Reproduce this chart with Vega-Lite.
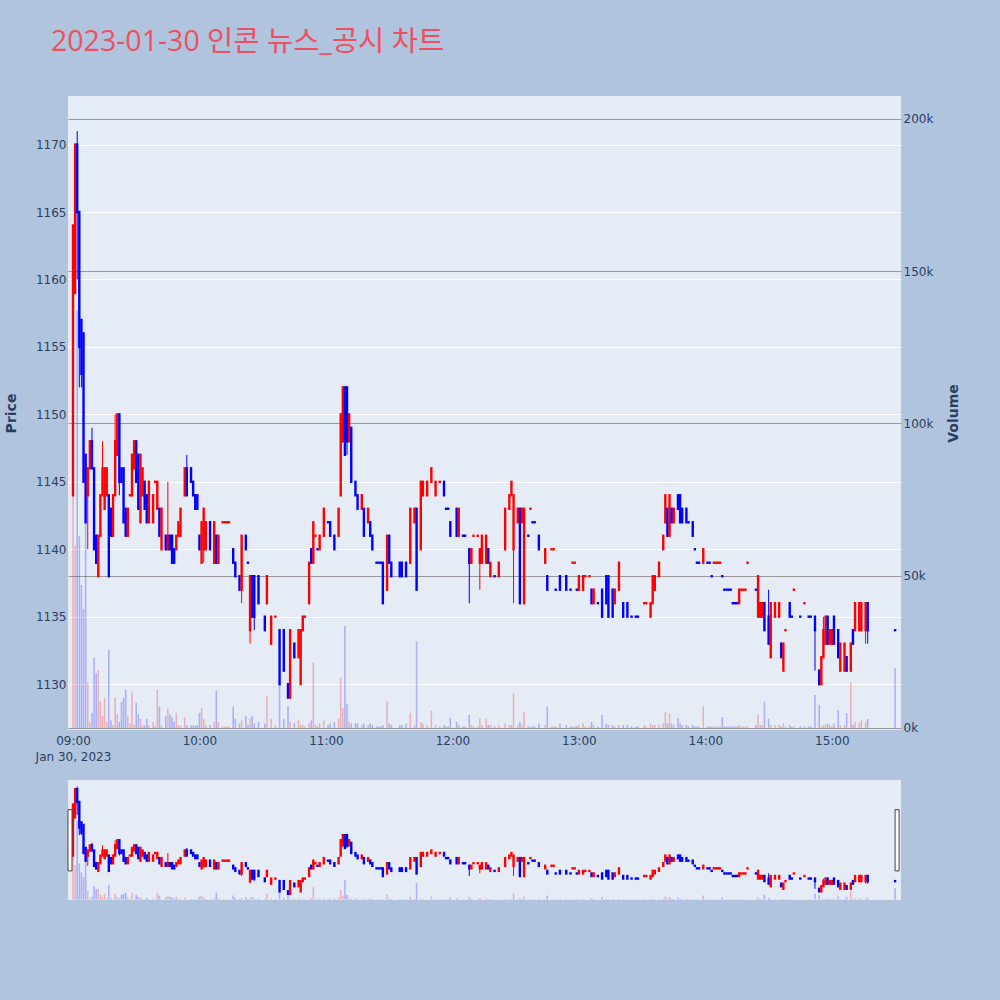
{
  "$schema": "https://vega.github.io/schema/vega-lite/v6.json",
  "background": "#b0c4de",
  "padding": {"left": 4, "top": 27, "right": 39, "bottom": 100},
  "bounds": "flush",
  "spacing": 50,
  "title": {
    "text": "2023-01-30 인콘 뉴스_공시 차트",
    "color": "#ef4f63",
    "fontSize": 28.5,
    "fontWeight": "normal",
    "font": "Open Sans, Noto Sans CJK KR",
    "anchor": "start",
    "frame": "group",
    "dx": -17,
    "offset": 40
  },
  "data": {
    "format": {"parse": {"t": "date:'%H:%M'"}},
    "values": [
      {"t":"09:00","o":1144,"h":1164,"l":1144,"c":1164,"v":104000,"d":"up"},
      {"t":"09:01","o":1159,"h":1170,"l":1159,"c":1170,"v":60000,"d":"up"},
      {"t":"09:02","o":1170,"h":1171,"l":1160,"c":1165,"v":137000,"d":"down"},
      {"t":"09:03","o":1165,"h":1165,"l":1152,"c":1155,"v":63000,"d":"down"},
      {"t":"09:04","o":1157,"h":1157,"l":1152,"c":1153,"v":47000,"d":"down"},
      {"t":"09:05","o":1156,"h":1156,"l":1145,"c":1145,"v":39000,"d":"down"},
      {"t":"09:06","o":1147,"h":1147,"l":1142,"c":1142,"v":75000,"d":"down"},
      {"t":"09:07","o":1144,"h":1146,"l":1140,"c":1146,"v":15000,"d":"up"},
      {"t":"09:08","o":1146,"h":1148,"l":1146,"c":1148,"v":2000,"d":"up"},
      {"t":"09:09","o":1148,"h":1149,"l":1146,"c":1146,"v":5000,"d":"down"},
      {"t":"09:10","o":1146,"h":1146,"l":1140,"c":1140,"v":23000,"d":"down"},
      {"t":"09:11","o":1141,"h":1141,"l":1139,"c":1139,"v":18000,"d":"down"},
      {"t":"09:12","o":1138,"h":1141,"l":1138,"c":1141,"v":19000,"d":"up"},
      {"t":"09:13","o":1141,"h":1144,"l":1141,"c":1144,"v":8600,"d":"up"},
      {"t":"09:14","o":1144,"h":1148,"l":1144,"c":1146,"v":4000,"d":"up"},
      {"t":"09:15","o":1143,"h":1146,"l":1143,"c":1146,"v":9900,"d":"up"},
      {"t":"09:16","o":1144,"h":1146,"l":1144,"c":1146,"v":2000,"d":"up"},
      {"t":"09:17","o":1144,"h":1144,"l":1138,"c":1138,"v":25700,"d":"down"},
      {"t":"09:18","o":1143,"h":1143,"l":1141,"c":1141,"v":2500,"d":"down"},
      {"t":"09:19","o":1141,"h":1144,"l":1141,"c":1144,"v":1000,"d":"up"},
      {"t":"09:20","o":1144,"h":1150,"l":1144,"c":1148,"v":10000,"d":"up"},
      {"t":"09:21","o":1147,"h":1150,"l":1147,"c":1150,"v":4500,"d":"up"},
      {"t":"09:22","o":1150,"h":1150,"l":1144,"c":1145,"v":2000,"d":"down"},
      {"t":"09:23","o":1146,"h":1146,"l":1145,"c":1145,"v":8600,"d":"down"},
      {"t":"09:24","o":1146,"h":1146,"l":1142,"c":1142,"v":10000,"d":"down"},
      {"t":"09:25","o":1143,"h":1143,"l":1141,"c":1141,"v":12600,"d":"down"},
      {"t":"09:26","o":1141,"h":1143,"l":1141,"c":1143,"v":4000,"d":"up"},
      {"t":"09:27","o":1144,"h":1144,"l":1144,"c":1144,"v":1500,"d":"up"},
      {"t":"09:28","o":1144,"h":1147,"l":1144,"c":1147,"v":12000,"d":"up"},
      {"t":"09:29","o":1146,"h":1148,"l":1146,"c":1148,"v":1000,"d":"up"},
      {"t":"09:30","o":1148,"h":1148,"l":1145,"c":1145,"v":8300,"d":"down"},
      {"t":"09:31","o":1147,"h":1147,"l":1143,"c":1143,"v":4500,"d":"down"},
      {"t":"09:32","o":1142,"h":1147,"l":1142,"c":1147,"v":3000,"d":"up"},
      {"t":"09:33","o":1144,"h":1146,"l":1144,"c":1146,"v":1000,"d":"up"},
      {"t":"09:34","o":1145,"h":1145,"l":1143,"c":1143,"v":800,"d":"down"},
      {"t":"09:35","o":1144,"h":1144,"l":1142,"c":1142,"v":3000,"d":"down"},
      {"t":"09:36","o":1142,"h":1145,"l":1142,"c":1145,"v":1000,"d":"up"},
      {"t":"09:38","o":1142,"h":1144,"l":1142,"c":1144,"v":2000,"d":"up"},
      {"t":"09:39","o":1145,"h":1145,"l":1145,"c":1145,"v":800,"d":"up"},
      {"t":"09:40","o":1143,"h":1145,"l":1143,"c":1145,"v":12600,"d":"up"},
      {"t":"09:41","o":1143,"h":1143,"l":1141,"c":1141,"v":7000,"d":"down"},
      {"t":"09:42","o":1140,"h":1143,"l":1140,"c":1143,"v":1000,"d":"up"},
      {"t":"09:44","o":1141,"h":1141,"l":1140,"c":1140,"v":4000,"d":"down"},
      {"t":"09:45","o":1140,"h":1145,"l":1140,"c":1141,"v":6300,"d":"up"},
      {"t":"09:46","o":1141,"h":1141,"l":1140,"c":1140,"v":4500,"d":"down"},
      {"t":"09:47","o":1141,"h":1141,"l":1139,"c":1139,"v":3500,"d":"down"},
      {"t":"09:48","o":1140,"h":1140,"l":1139,"c":1139,"v":2000,"d":"down"},
      {"t":"09:49","o":1140,"h":1141,"l":1140,"c":1141,"v":5000,"d":"up"},
      {"t":"09:50","o":1141,"h":1142,"l":1141,"c":1142,"v":1000,"d":"up"},
      {"t":"09:51","o":1141,"h":1143,"l":1141,"c":1143,"v":800,"d":"up"},
      {"t":"09:53","o":1144,"h":1146,"l":1144,"c":1146,"v":3500,"d":"up"},
      {"t":"09:54","o":1146,"h":1147,"l":1144,"c":1144,"v":800,"d":"down"},
      {"t":"09:56","o":1146,"h":1146,"l":1145,"c":1145,"v":1000,"d":"down"},
      {"t":"09:57","o":1145,"h":1145,"l":1144,"c":1144,"v":800,"d":"down"},
      {"t":"09:58","o":1144,"h":1144,"l":1143,"c":1143,"v":800,"d":"down"},
      {"t":"09:59","o":1144,"h":1144,"l":1143,"c":1143,"v":1000,"d":"down"},
      {"t":"10:00","o":1141,"h":1141,"l":1140,"c":1140,"v":5000,"d":"down"},
      {"t":"10:01","o":1139,"h":1142,"l":1139,"c":1142,"v":6600,"d":"up"},
      {"t":"10:02","o":1140,"h":1143,"l":1139,"c":1143,"v":3000,"d":"up"},
      {"t":"10:03","o":1140,"h":1142,"l":1140,"c":1142,"v":1000,"d":"up"},
      {"t":"10:05","o":1142,"h":1142,"l":1140,"c":1140,"v":1000,"d":"down"},
      {"t":"10:07","o":1139,"h":1142,"l":1139,"c":1142,"v":2000,"d":"up"},
      {"t":"10:08","o":1141,"h":1141,"l":1139,"c":1139,"v":12300,"d":"down"},
      {"t":"10:09","o":1139,"h":1141,"l":1139,"c":1141,"v":2000,"d":"up"},
      {"t":"10:11","o":1142,"h":1142,"l":1142,"c":1142,"v":500,"d":"up"},
      {"t":"10:12","o":1142,"h":1142,"l":1142,"c":1142,"v":500,"d":"up"},
      {"t":"10:13","o":1142,"h":1142,"l":1142,"c":1142,"v":500,"d":"up"},
      {"t":"10:14","o":1142,"h":1142,"l":1142,"c":1142,"v":500,"d":"up"},
      {"t":"10:16","o":1140,"h":1140,"l":1139,"c":1139,"v":7000,"d":"down"},
      {"t":"10:17","o":1139,"h":1139,"l":1138,"c":1138,"v":3000,"d":"down"},
      {"t":"10:19","o":1138,"h":1138,"l":1137,"c":1137,"v":1500,"d":"down"},
      {"t":"10:20","o":1137,"h":1141,"l":1136,"c":1141,"v":2500,"d":"up"},
      {"t":"10:22","o":1141,"h":1141,"l":1140,"c":1140,"v":4000,"d":"down"},
      {"t":"10:23","o":1139,"h":1139,"l":1139,"c":1139,"v":1000,"d":"down"},
      {"t":"10:24","o":1134,"h":1138,"l":1133,"c":1138,"v":3000,"d":"up"},
      {"t":"10:25","o":1138,"h":1138,"l":1135,"c":1135,"v":4000,"d":"down"},
      {"t":"10:26","o":1138,"h":1138,"l":1134,"c":1135,"v":1500,"d":"down"},
      {"t":"10:28","o":1138,"h":1138,"l":1136,"c":1136,"v":2000,"d":"down"},
      {"t":"10:31","o":1135,"h":1135,"l":1134,"c":1134,"v":1500,"d":"down"},
      {"t":"10:32","o":1136,"h":1138,"l":1136,"c":1138,"v":10600,"d":"up"},
      {"t":"10:34","o":1133,"h":1135,"l":1133,"c":1135,"v":3000,"d":"up"},
      {"t":"10:36","o":1135,"h":1135,"l":1135,"c":1135,"v":1000,"d":"up"},
      {"t":"10:38","o":1134,"h":1134,"l":1130,"c":1130,"v":14800,"d":"down"},
      {"t":"10:40","o":1134,"h":1134,"l":1131,"c":1131,"v":3000,"d":"down"},
      {"t":"10:42","o":1130,"h":1130,"l":1129,"c":1129,"v":7200,"d":"down"},
      {"t":"10:43","o":1129,"h":1134,"l":1129,"c":1134,"v":2000,"d":"up"},
      {"t":"10:45","o":1133,"h":1133,"l":1132,"c":1132,"v":1500,"d":"down"},
      {"t":"10:47","o":1132,"h":1134,"l":1132,"c":1134,"v":2500,"d":"up"},
      {"t":"10:48","o":1130,"h":1134,"l":1130,"c":1134,"v":1000,"d":"up"},
      {"t":"10:49","o":1134,"h":1135,"l":1134,"c":1135,"v":1000,"d":"up"},
      {"t":"10:50","o":1135,"h":1135,"l":1135,"c":1135,"v":500,"d":"up"},
      {"t":"10:52","o":1136,"h":1139,"l":1136,"c":1139,"v":1500,"d":"up"},
      {"t":"10:53","o":1140,"h":1140,"l":1139,"c":1139,"v":2500,"d":"down"},
      {"t":"10:54","o":1139,"h":1142,"l":1139,"c":1142,"v":21500,"d":"up"},
      {"t":"10:55","o":1141,"h":1141,"l":1141,"c":1141,"v":1000,"d":"up"},
      {"t":"10:56","o":1140,"h":1140,"l":1140,"c":1140,"v":500,"d":"down"},
      {"t":"10:57","o":1140,"h":1141,"l":1140,"c":1141,"v":1500,"d":"up"},
      {"t":"10:59","o":1141,"h":1143,"l":1141,"c":1143,"v":2500,"d":"up"},
      {"t":"11:01","o":1142,"h":1142,"l":1142,"c":1142,"v":1000,"d":"down"},
      {"t":"11:02","o":1142,"h":1142,"l":1141,"c":1141,"v":1500,"d":"down"},
      {"t":"11:04","o":1141,"h":1141,"l":1140,"c":1140,"v":2000,"d":"down"},
      {"t":"11:06","o":1141,"h":1143,"l":1141,"c":1143,"v":3000,"d":"up"},
      {"t":"11:07","o":1144,"h":1150,"l":1144,"c":1150,"v":16500,"d":"up"},
      {"t":"11:08","o":1148,"h":1152,"l":1148,"c":1152,"v":6600,"d":"up"},
      {"t":"11:09","o":1152,"h":1152,"l":1147,"c":1147,"v":33500,"d":"down"},
      {"t":"11:10","o":1152,"h":1152,"l":1147,"c":1148,"v":8000,"d":"down"},
      {"t":"11:11","o":1148,"h":1150,"l":1148,"c":1150,"v":2000,"d":"up"},
      {"t":"11:12","o":1149,"h":1149,"l":1145,"c":1145,"v":1500,"d":"down"},
      {"t":"11:14","o":1145,"h":1145,"l":1144,"c":1144,"v":1500,"d":"down"},
      {"t":"11:15","o":1144,"h":1144,"l":1143,"c":1143,"v":1500,"d":"down"},
      {"t":"11:17","o":1143,"h":1144,"l":1143,"c":1144,"v":1000,"d":"up"},
      {"t":"11:18","o":1143,"h":1143,"l":1141,"c":1141,"v":1500,"d":"down"},
      {"t":"11:20","o":1142,"h":1143,"l":1142,"c":1143,"v":1000,"d":"up"},
      {"t":"11:21","o":1142,"h":1142,"l":1141,"c":1141,"v":1500,"d":"down"},
      {"t":"11:22","o":1141,"h":1141,"l":1140,"c":1140,"v":1000,"d":"down"},
      {"t":"11:24","o":1139,"h":1139,"l":1139,"c":1139,"v":500,"d":"down"},
      {"t":"11:25","o":1139,"h":1139,"l":1139,"c":1139,"v":500,"d":"down"},
      {"t":"11:26","o":1139,"h":1139,"l":1139,"c":1139,"v":500,"d":"down"},
      {"t":"11:27","o":1139,"h":1139,"l":1136,"c":1136,"v":1000,"d":"down"},
      {"t":"11:29","o":1137,"h":1141,"l":1137,"c":1141,"v":8900,"d":"up"},
      {"t":"11:30","o":1141,"h":1141,"l":1139,"c":1139,"v":1500,"d":"down"},
      {"t":"11:31","o":1139,"h":1139,"l":1138,"c":1138,"v":1000,"d":"down"},
      {"t":"11:35","o":1139,"h":1139,"l":1138,"c":1138,"v":1000,"d":"down"},
      {"t":"11:36","o":1139,"h":1139,"l":1138,"c":1138,"v":1000,"d":"down"},
      {"t":"11:38","o":1139,"h":1139,"l":1138,"c":1138,"v":1500,"d":"down"},
      {"t":"11:40","o":1139,"h":1143,"l":1139,"c":1143,"v":5000,"d":"up"},
      {"t":"11:42","o":1142,"h":1143,"l":1142,"c":1143,"v":1000,"d":"up"},
      {"t":"11:43","o":1143,"h":1143,"l":1137,"c":1137,"v":28400,"d":"down"},
      {"t":"11:45","o":1140,"h":1145,"l":1140,"c":1145,"v":2000,"d":"up"},
      {"t":"11:46","o":1144,"h":1145,"l":1144,"c":1145,"v":1500,"d":"up"},
      {"t":"11:48","o":1144,"h":1145,"l":1144,"c":1145,"v":1000,"d":"up"},
      {"t":"11:50","o":1145,"h":1146,"l":1145,"c":1146,"v":5700,"d":"up"},
      {"t":"11:52","o":1144,"h":1145,"l":1144,"c":1145,"v":1000,"d":"up"},
      {"t":"11:54","o":1145,"h":1145,"l":1145,"c":1145,"v":500,"d":"up"},
      {"t":"11:56","o":1145,"h":1145,"l":1144,"c":1144,"v":1000,"d":"down"},
      {"t":"11:57","o":1143,"h":1143,"l":1143,"c":1143,"v":500,"d":"down"},
      {"t":"11:58","o":1143,"h":1143,"l":1143,"c":1143,"v":500,"d":"down"},
      {"t":"11:59","o":1142,"h":1142,"l":1141,"c":1141,"v":3300,"d":"down"},
      {"t":"12:02","o":1143,"h":1143,"l":1141,"c":1141,"v":2000,"d":"down"},
      {"t":"12:03","o":1141,"h":1143,"l":1141,"c":1143,"v":1000,"d":"up"},
      {"t":"12:05","o":1141,"h":1141,"l":1141,"c":1141,"v":500,"d":"down"},
      {"t":"12:06","o":1141,"h":1141,"l":1141,"c":1141,"v":500,"d":"down"},
      {"t":"12:08","o":1140,"h":1140,"l":1136,"c":1139,"v":4300,"d":"down"},
      {"t":"12:09","o":1139,"h":1140,"l":1139,"c":1140,"v":1000,"d":"up"},
      {"t":"12:10","o":1141,"h":1141,"l":1141,"c":1141,"v":500,"d":"up"},
      {"t":"12:12","o":1141,"h":1141,"l":1141,"c":1141,"v":500,"d":"up"},
      {"t":"12:13","o":1139,"h":1140,"l":1137,"c":1140,"v":3000,"d":"up"},
      {"t":"12:14","o":1139,"h":1141,"l":1139,"c":1141,"v":1000,"d":"up"},
      {"t":"12:16","o":1139,"h":1141,"l":1139,"c":1141,"v":3000,"d":"up"},
      {"t":"12:17","o":1140,"h":1140,"l":1139,"c":1139,"v":1000,"d":"down"},
      {"t":"12:18","o":1138,"h":1139,"l":1138,"c":1139,"v":1000,"d":"up"},
      {"t":"12:20","o":1138,"h":1138,"l":1138,"c":1138,"v":500,"d":"down"},
      {"t":"12:22","o":1138,"h":1139,"l":1138,"c":1139,"v":1000,"d":"up"},
      {"t":"12:25","o":1140,"h":1143,"l":1140,"c":1143,"v":1500,"d":"up"},
      {"t":"12:27","o":1143,"h":1144,"l":1143,"c":1144,"v":1000,"d":"up"},
      {"t":"12:28","o":1144,"h":1145,"l":1144,"c":1145,"v":1000,"d":"up"},
      {"t":"12:29","o":1140,"h":1144,"l":1136,"c":1144,"v":11500,"d":"up"},
      {"t":"12:31","o":1142,"h":1143,"l":1142,"c":1143,"v":1000,"d":"up"},
      {"t":"12:32","o":1143,"h":1143,"l":1136,"c":1136,"v":2000,"d":"down"},
      {"t":"12:33","o":1142,"h":1143,"l":1142,"c":1143,"v":1000,"d":"up"},
      {"t":"12:34","o":1136,"h":1143,"l":1136,"c":1143,"v":5300,"d":"up"},
      {"t":"12:36","o":1141,"h":1141,"l":1141,"c":1141,"v":500,"d":"down"},
      {"t":"12:37","o":1143,"h":1143,"l":1143,"c":1143,"v":500,"d":"up"},
      {"t":"12:38","o":1142,"h":1142,"l":1142,"c":1142,"v":500,"d":"down"},
      {"t":"12:39","o":1142,"h":1142,"l":1142,"c":1142,"v":500,"d":"down"},
      {"t":"12:41","o":1141,"h":1141,"l":1140,"c":1140,"v":1500,"d":"down"},
      {"t":"12:44","o":1139,"h":1140,"l":1139,"c":1140,"v":1000,"d":"up"},
      {"t":"12:45","o":1138,"h":1138,"l":1137,"c":1137,"v":7000,"d":"down"},
      {"t":"12:47","o":1140,"h":1140,"l":1140,"c":1140,"v":500,"d":"up"},
      {"t":"12:48","o":1140,"h":1140,"l":1140,"c":1140,"v":500,"d":"up"},
      {"t":"12:49","o":1137,"h":1137,"l":1137,"c":1137,"v":500,"d":"down"},
      {"t":"12:51","o":1138,"h":1138,"l":1137,"c":1137,"v":1500,"d":"down"},
      {"t":"12:54","o":1138,"h":1138,"l":1137,"c":1137,"v":1000,"d":"down"},
      {"t":"12:56","o":1137,"h":1137,"l":1137,"c":1137,"v":500,"d":"down"},
      {"t":"12:57","o":1139,"h":1139,"l":1139,"c":1139,"v":500,"d":"up"},
      {"t":"12:58","o":1139,"h":1139,"l":1139,"c":1139,"v":500,"d":"up"},
      {"t":"12:59","o":1137,"h":1137,"l":1137,"c":1137,"v":500,"d":"down"},
      {"t":"13:00","o":1137,"h":1138,"l":1137,"c":1138,"v":1000,"d":"up"},
      {"t":"13:02","o":1137,"h":1138,"l":1137,"c":1138,"v":1500,"d":"up"},
      {"t":"13:03","o":1138,"h":1138,"l":1138,"c":1138,"v":500,"d":"up"},
      {"t":"13:05","o":1138,"h":1138,"l":1138,"c":1138,"v":500,"d":"up"},
      {"t":"13:06","o":1137,"h":1137,"l":1136,"c":1136,"v":2000,"d":"down"},
      {"t":"13:07","o":1136,"h":1137,"l":1136,"c":1137,"v":1000,"d":"up"},
      {"t":"13:09","o":1136,"h":1136,"l":1136,"c":1136,"v":500,"d":"down"},
      {"t":"13:11","o":1137,"h":1137,"l":1135,"c":1135,"v":4300,"d":"down"},
      {"t":"13:13","o":1138,"h":1138,"l":1136,"c":1136,"v":1500,"d":"down"},
      {"t":"13:14","o":1138,"h":1138,"l":1135,"c":1135,"v":1000,"d":"down"},
      {"t":"13:16","o":1137,"h":1137,"l":1135,"c":1135,"v":1000,"d":"down"},
      {"t":"13:17","o":1136,"h":1137,"l":1136,"c":1137,"v":500,"d":"up"},
      {"t":"13:19","o":1137,"h":1139,"l":1137,"c":1139,"v":1000,"d":"up"},
      {"t":"13:21","o":1136,"h":1136,"l":1135,"c":1135,"v":1000,"d":"down"},
      {"t":"13:23","o":1136,"h":1136,"l":1135,"c":1135,"v":1000,"d":"down"},
      {"t":"13:25","o":1135,"h":1135,"l":1135,"c":1135,"v":500,"d":"down"},
      {"t":"13:27","o":1135,"h":1135,"l":1135,"c":1135,"v":500,"d":"down"},
      {"t":"13:28","o":1135,"h":1135,"l":1135,"c":1135,"v":500,"d":"down"},
      {"t":"13:31","o":1136,"h":1136,"l":1136,"c":1136,"v":1000,"d":"up"},
      {"t":"13:32","o":1136,"h":1136,"l":1136,"c":1136,"v":500,"d":"up"},
      {"t":"13:34","o":1135,"h":1136,"l":1135,"c":1136,"v":1500,"d":"up"},
      {"t":"13:35","o":1136,"h":1138,"l":1136,"c":1138,"v":1000,"d":"up"},
      {"t":"13:36","o":1137,"h":1138,"l":1137,"c":1138,"v":1000,"d":"up"},
      {"t":"13:38","o":1138,"h":1139,"l":1138,"c":1139,"v":1000,"d":"up"},
      {"t":"13:40","o":1140,"h":1141,"l":1140,"c":1141,"v":1500,"d":"up"},
      {"t":"13:41","o":1142,"h":1144,"l":1142,"c":1144,"v":5300,"d":"up"},
      {"t":"13:42","o":1143,"h":1143,"l":1141,"c":1141,"v":1500,"d":"down"},
      {"t":"13:43","o":1141,"h":1144,"l":1141,"c":1144,"v":4800,"d":"up"},
      {"t":"13:44","o":1143,"h":1143,"l":1142,"c":1142,"v":1500,"d":"down"},
      {"t":"13:45","o":1142,"h":1143,"l":1142,"c":1143,"v":1000,"d":"up"},
      {"t":"13:47","o":1144,"h":1144,"l":1143,"c":1143,"v":3300,"d":"down"},
      {"t":"13:48","o":1144,"h":1144,"l":1142,"c":1142,"v":1500,"d":"down"},
      {"t":"13:49","o":1143,"h":1143,"l":1142,"c":1142,"v":1000,"d":"down"},
      {"t":"13:51","o":1143,"h":1143,"l":1142,"c":1142,"v":1000,"d":"down"},
      {"t":"13:52","o":1142,"h":1142,"l":1142,"c":1142,"v":500,"d":"down"},
      {"t":"13:54","o":1142,"h":1142,"l":1141,"c":1141,"v":1000,"d":"down"},
      {"t":"13:55","o":1140,"h":1140,"l":1140,"c":1140,"v":500,"d":"down"},
      {"t":"13:56","o":1139,"h":1139,"l":1139,"c":1139,"v":500,"d":"down"},
      {"t":"13:57","o":1139,"h":1139,"l":1139,"c":1139,"v":500,"d":"down"},
      {"t":"13:59","o":1139,"h":1140,"l":1139,"c":1140,"v":7200,"d":"up"},
      {"t":"14:01","o":1139,"h":1139,"l":1139,"c":1139,"v":500,"d":"down"},
      {"t":"14:02","o":1139,"h":1139,"l":1139,"c":1139,"v":500,"d":"down"},
      {"t":"14:03","o":1138,"h":1138,"l":1138,"c":1138,"v":500,"d":"down"},
      {"t":"14:04","o":1139,"h":1139,"l":1139,"c":1139,"v":500,"d":"up"},
      {"t":"14:05","o":1139,"h":1139,"l":1139,"c":1139,"v":500,"d":"up"},
      {"t":"14:06","o":1139,"h":1139,"l":1139,"c":1139,"v":500,"d":"up"},
      {"t":"14:07","o":1139,"h":1139,"l":1139,"c":1139,"v":500,"d":"up"},
      {"t":"14:08","o":1138,"h":1138,"l":1138,"c":1138,"v":3600,"d":"down"},
      {"t":"14:09","o":1137,"h":1137,"l":1137,"c":1137,"v":500,"d":"down"},
      {"t":"14:10","o":1137,"h":1137,"l":1137,"c":1137,"v":500,"d":"down"},
      {"t":"14:11","o":1137,"h":1137,"l":1137,"c":1137,"v":500,"d":"down"},
      {"t":"14:12","o":1137,"h":1137,"l":1137,"c":1137,"v":500,"d":"down"},
      {"t":"14:13","o":1136,"h":1136,"l":1136,"c":1136,"v":500,"d":"down"},
      {"t":"14:14","o":1136,"h":1136,"l":1136,"c":1136,"v":500,"d":"down"},
      {"t":"14:15","o":1136,"h":1136,"l":1136,"c":1136,"v":500,"d":"down"},
      {"t":"14:16","o":1136,"h":1137,"l":1136,"c":1137,"v":1000,"d":"up"},
      {"t":"14:17","o":1137,"h":1137,"l":1137,"c":1137,"v":500,"d":"up"},
      {"t":"14:18","o":1137,"h":1137,"l":1137,"c":1137,"v":500,"d":"up"},
      {"t":"14:19","o":1137,"h":1137,"l":1137,"c":1137,"v":500,"d":"up"},
      {"t":"14:20","o":1139,"h":1139,"l":1139,"c":1139,"v":500,"d":"up"},
      {"t":"14:24","o":1137,"h":1137,"l":1137,"c":1137,"v":1000,"d":"down"},
      {"t":"14:25","o":1135,"h":1138,"l":1135,"c":1138,"v":4300,"d":"up"},
      {"t":"14:26","o":1135,"h":1136,"l":1135,"c":1136,"v":1000,"d":"up"},
      {"t":"14:27","o":1135,"h":1136,"l":1135,"c":1136,"v":1000,"d":"up"},
      {"t":"14:28","o":1136,"h":1136,"l":1134,"c":1134,"v":8600,"d":"down"},
      {"t":"14:30","o":1135,"h":1137,"l":1133,"c":1133,"v":3000,"d":"down"},
      {"t":"14:31","o":1132,"h":1136,"l":1132,"c":1136,"v":1000,"d":"up"},
      {"t":"14:33","o":1135,"h":1136,"l":1135,"c":1136,"v":1000,"d":"up"},
      {"t":"14:35","o":1135,"h":1136,"l":1135,"c":1136,"v":1000,"d":"up"},
      {"t":"14:36","o":1133,"h":1133,"l":1132,"c":1132,"v":500,"d":"down"},
      {"t":"14:37","o":1131,"h":1133,"l":1131,"c":1133,"v":1500,"d":"up"},
      {"t":"14:38","o":1134,"h":1134,"l":1134,"c":1134,"v":500,"d":"up"},
      {"t":"14:40","o":1136,"h":1136,"l":1135,"c":1135,"v":1000,"d":"down"},
      {"t":"14:41","o":1135,"h":1135,"l":1135,"c":1135,"v":500,"d":"down"},
      {"t":"14:42","o":1137,"h":1137,"l":1137,"c":1137,"v":500,"d":"up"},
      {"t":"14:45","o":1135,"h":1135,"l":1135,"c":1135,"v":500,"d":"down"},
      {"t":"14:47","o":1136,"h":1136,"l":1136,"c":1136,"v":500,"d":"up"},
      {"t":"14:49","o":1135,"h":1135,"l":1135,"c":1135,"v":500,"d":"down"},
      {"t":"14:50","o":1135,"h":1135,"l":1135,"c":1135,"v":500,"d":"down"},
      {"t":"14:52","o":1135,"h":1135,"l":1131,"c":1134,"v":10800,"d":"down"},
      {"t":"14:54","o":1131,"h":1131,"l":1130,"c":1130,"v":7600,"d":"down"},
      {"t":"14:55","o":1130,"h":1132,"l":1130,"c":1132,"v":500,"d":"up"},
      {"t":"14:56","o":1132,"h":1135,"l":1132,"c":1134,"v":1000,"d":"up"},
      {"t":"14:57","o":1133,"h":1135,"l":1133,"c":1135,"v":1000,"d":"up"},
      {"t":"14:58","o":1135,"h":1135,"l":1133,"c":1133,"v":1500,"d":"down"},
      {"t":"14:59","o":1133,"h":1134,"l":1133,"c":1134,"v":1000,"d":"up"},
      {"t":"15:00","o":1133,"h":1134,"l":1133,"c":1134,"v":500,"d":"up"},
      {"t":"15:01","o":1135,"h":1135,"l":1133,"c":1133,"v":1500,"d":"down"},
      {"t":"15:03","o":1134,"h":1134,"l":1132,"c":1132,"v":5900,"d":"down"},
      {"t":"15:04","o":1131,"h":1133,"l":1131,"c":1133,"v":1000,"d":"up"},
      {"t":"15:06","o":1131,"h":1133,"l":1131,"c":1133,"v":1000,"d":"up"},
      {"t":"15:07","o":1132,"h":1132,"l":1131,"c":1131,"v":4900,"d":"down"},
      {"t":"15:09","o":1131,"h":1133,"l":1131,"c":1133,"v":14900,"d":"up"},
      {"t":"15:10","o":1134,"h":1134,"l":1133,"c":1133,"v":1000,"d":"down"},
      {"t":"15:11","o":1134,"h":1136,"l":1134,"c":1136,"v":2000,"d":"up"},
      {"t":"15:13","o":1134,"h":1136,"l":1134,"c":1136,"v":1500,"d":"up"},
      {"t":"15:14","o":1134,"h":1136,"l":1134,"c":1136,"v":2500,"d":"up"},
      {"t":"15:16","o":1134,"h":1136,"l":1133,"c":1136,"v":2000,"d":"up"},
      {"t":"15:17","o":1136,"h":1136,"l":1133,"c":1134,"v":3000,"d":"down"},
      {"t":"15:30","o":1134,"h":1134,"l":1134,"c":1134,"v":19700,"d":"down"}
    ]
  },
  "vconcat": [
    {
      "width": 833,
      "height": 634,
      "encoding": {
        "x": {
          "field": "t",
          "type": "temporal",
          "title": null,
          "scale": {
            "padding": 0,
            "domain": [
              {"year": 1900, "month": 1, "date": 1, "hours": 8, "minutes": 57, "seconds": 38},
              {"year": 1900, "month": 1, "date": 1, "hours": 15, "minutes": 32, "seconds": 48}
            ]
          },
          "axis": {
            "grid": false,
            "values": [
              {"year": 1900, "month": 1, "date": 1, "hours": 9},
              {"year": 1900, "month": 1, "date": 1, "hours": 10},
              {"year": 1900, "month": 1, "date": 1, "hours": 11},
              {"year": 1900, "month": 1, "date": 1, "hours": 12},
              {"year": 1900, "month": 1, "date": 1, "hours": 13},
              {"year": 1900, "month": 1, "date": 1, "hours": 14},
              {"year": 1900, "month": 1, "date": 1, "hours": 15}
            ],
            "labelExpr": "hours(datum.value) == 9 ? ['09:00', 'Jan 30, 2023'] : timeFormat(datum.value, '%H:%M')",
            "labelPadding": 5,
            "labelLineHeight": 16,
            "labelOverlap": false,
            "labelFlush": false
          }
        },
        "color": {
          "field": "d",
          "type": "nominal",
          "scale": {"domain": ["up", "down"], "range": ["#ff0000", "#0000ff"]},
          "legend": null
        }
      },
      "layer": [
        {
          "layer": [
            {
              "mark": {"type": "rule", "strokeWidth": 1},
              "encoding": {
                "y": {
                  "field": "l",
                  "type": "quantitative",
                  "title": "Price",
                  "scale": {"domain": [1126.6, 1173.6], "nice": false, "zero": false},
                  "axis": {
                    "values": [1130, 1135, 1140, 1145, 1150, 1155, 1160, 1165, 1170],
                    "format": "d",
                    "labelPadding": 2,
                    "titlePadding": 17
                  }
                },
                "y2": {"field": "h"}
              }
            },
            {
              "mark": {"type": "rule", "strokeWidth": 2.4, "strokeCap": "square"},
              "encoding": {
                "y": {"field": "o", "type": "quantitative"},
                "y2": {"field": "c"}
              }
            }
          ]
        },
        {
          "mark": {"type": "bar", "width": 1.6, "opacity": 0.25},
          "encoding": {
            "y": {
              "field": "v",
              "type": "quantitative",
              "title": "Volume",
              "scale": {"domain": [-660, 207550], "nice": false},
              "axis": {
                "orient": "right",
                "grid": true,
                "values": [0, 50000, 100000, 150000, 200000],
                "format": "~s",
                "gridColor": "#999999",
                "gridOpacity": 1,
                "labelPadding": 2,
                "titleAngle": 270,
                "titlePadding": 28
              }
            }
          }
        }
      ],
      "resolve": {"scale": {"y": "independent"}}
    },
    {
      "width": 833,
      "height": 120,
      "encoding": {
        "x": {
          "field": "t",
          "type": "temporal",
          "axis": null,
          "scale": {
            "padding": 0,
            "domain": [
              {"year": 1900, "month": 1, "date": 1, "hours": 8, "minutes": 57, "seconds": 38},
              {"year": 1900, "month": 1, "date": 1, "hours": 15, "minutes": 32, "seconds": 48}
            ]
          }
        },
        "color": {
          "field": "d",
          "type": "nominal",
          "scale": {"domain": ["up", "down"], "range": ["#ff0000", "#0000ff"]},
          "legend": null
        }
      },
      "layer": [
        {
          "layer": [
            {
              "mark": {"type": "rule", "strokeWidth": 1},
              "encoding": {
                "y": {
                  "field": "l",
                  "type": "quantitative",
                  "axis": null,
                  "scale": {"domain": [1126.6, 1173.6], "nice": false, "zero": false}
                },
                "y2": {"field": "h"}
              }
            },
            {
              "mark": {"type": "rule", "strokeWidth": 2.4, "strokeCap": "square"},
              "encoding": {
                "y": {"field": "o", "type": "quantitative"},
                "y2": {"field": "c"}
              }
            },
            {
              "transform": [{"filter": "hours(datum.t) == 9 && minutes(datum.t) == 0"}],
              "mark": {"type": "rect", "width": 4, "xOffset": -3, "fill": "#ffffff", "stroke": "#444444", "strokeWidth": 1},
              "encoding": {
                "y": {"datum": 1162, "type": "quantitative"},
                "y2": {"datum": 1138},
                "color": {"value": "#ffffff"}
              }
            },
            {
              "transform": [{"filter": "hours(datum.t) == 15 && minutes(datum.t) == 30"}],
              "mark": {"type": "rect", "width": 4, "xOffset": 2, "fill": "#ffffff", "stroke": "#444444", "strokeWidth": 1},
              "encoding": {
                "y": {"datum": 1162, "type": "quantitative"},
                "y2": {"datum": 1138},
                "color": {"value": "#ffffff"}
              }
            }
          ]
        },
        {
          "mark": {"type": "bar", "width": 1.6, "opacity": 0.25},
          "encoding": {
            "y": {
              "field": "v",
              "type": "quantitative",
              "axis": null,
              "scale": {"domain": [-660, 207550], "nice": false}
            }
          }
        }
      ],
      "resolve": {"scale": {"y": "independent"}}
    }
  ],
  "config": {
    "font": "DejaVu Sans",
    "view": {"fill": "#e5ecf6", "stroke": null},
    "axis": {
      "labelFont": "DejaVu Sans",
      "labelFontSize": 12,
      "labelColor": "#2a3f5f",
      "titleFont": "DejaVu Sans",
      "titleFontSize": 14,
      "titleFontWeight": "bold",
      "titleColor": "#2a3f5f",
      "ticks": false,
      "domain": false,
      "gridColor": "#ffffff",
      "gridWidth": 1
    }
  }
}
